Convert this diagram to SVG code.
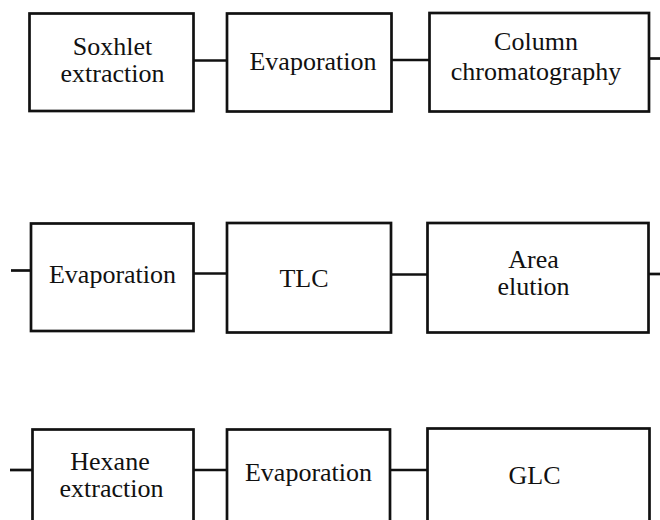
<svg xmlns="http://www.w3.org/2000/svg" width="660" height="520" viewBox="0 0 660 520">
<style>
.box{fill:#fff;stroke:#111;stroke-width:2.7}
.ln{stroke:#111;stroke-width:2.7;fill:none}
text{font-family:"Liberation Serif","DejaVu Serif","Times New Roman",serif;font-size:26px;fill:#111;text-anchor:middle}
</style>
<rect width="660" height="520" fill="#fff"/>
<g id="connectors">
<line class="ln" x1="193.5" y1="60.5" x2="227" y2="60.5"/>
<line class="ln" x1="391.5" y1="60" x2="429.5" y2="60"/>
<line class="ln" x1="649" y1="58.5" x2="660" y2="58.5"/>
<line class="ln" x1="11" y1="270.5" x2="31" y2="270.5"/>
<line class="ln" x1="193.5" y1="273.5" x2="227" y2="273.5"/>
<line class="ln" x1="391" y1="274.5" x2="427.5" y2="274.5"/>
<line class="ln" x1="648.5" y1="274" x2="660" y2="274"/>
<line class="ln" x1="10" y1="470" x2="32.5" y2="470"/>
<line class="ln" x1="193.5" y1="470" x2="227" y2="470"/>
<line class="ln" x1="390" y1="470" x2="427.5" y2="470"/>
</g>
<g id="soxhlet">
<rect class="box" x="29.5" y="13.5" width="164" height="97.5"/>
<text x="112.5" y="54.5">Soxhlet</text>
<text x="112.5" y="81.5">extraction</text>
</g>
<g id="evaporation1">
<rect class="box" x="227" y="13.5" width="164.5" height="98"/>
<text x="313" y="70">Evaporation</text>
</g>
<g id="column">
<rect class="box" x="429.5" y="13" width="219.5" height="98.5"/>
<text x="536" y="50">Column</text>
<text x="536" y="80">chromatography</text>
</g>
<g id="evaporation2">
<rect class="box" x="31" y="223.5" width="162.5" height="107.5"/>
<text x="112.5" y="282.5">Evaporation</text>
</g>
<g id="tlc">
<rect class="box" x="227" y="223" width="164" height="109.5"/>
<text x="304" y="286.5">TLC</text>
</g>
<g id="area">
<rect class="box" x="427.5" y="223" width="221" height="109.5"/>
<text x="533.5" y="267.5">Area</text>
<text x="533.5" y="294.5">elution</text>
</g>
<g id="hexane">
<rect class="box" x="32.5" y="429.5" width="161" height="110"/>
<text x="110" y="469.5">Hexane</text>
<text x="111.5" y="496.5">extraction</text>
</g>
<g id="evaporation3">
<rect class="box" x="227" y="429.5" width="163" height="110"/>
<text x="308.5" y="480.5">Evaporation</text>
</g>
<g id="glc">
<rect class="box" x="427.5" y="428.5" width="222" height="110"/>
<text x="534.5" y="483.5">GLC</text>
</g>
</svg>
